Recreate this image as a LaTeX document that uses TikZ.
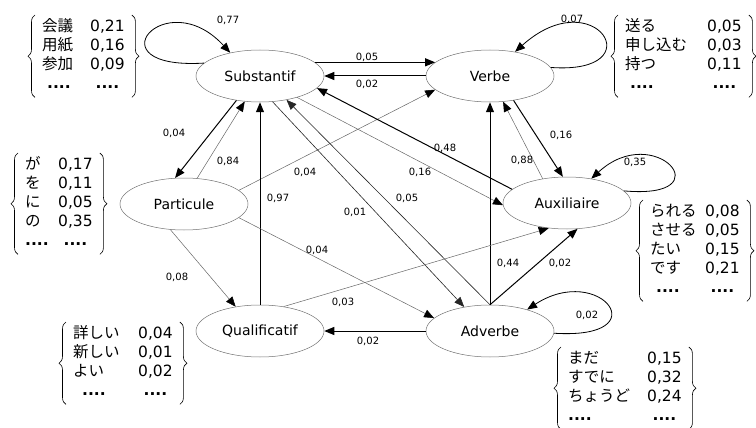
\documentclass[tikz,border=0pt]{standalone}
\usepackage{fontspec}
\usepackage{array}
\setmainfont{DejaVu Sans}
\newfontfamily\jpfont{Noto Sans CJK JP}
\usetikzlibrary{arrows.meta,shapes.geometric,decorations.pathreplacing}
\newcommand{\dts}{{\normalfont\bfseries ....}}

\begin{document}
\begin{tikzpicture}[x=1pt,y=-1pt,
    st/.style={ellipse, draw=black!55, line width=0.5pt, minimum width=128pt, minimum height=52pt, inner sep=0pt, font=\fontsize{14}{16}\selectfont},
    elbl/.style={font=\fontsize{10}{12}\selectfont, inner sep=1pt, text=black},
    bx/.style={anchor=north west, inner xsep=7pt, inner ysep=3pt, font=\fontsize{15.5}{19}\selectfont},
    brc/.style={decorate, decoration={brace, amplitude=7pt}, line width=0.6pt},
    thk/.style={-{Triangle[length=10pt,width=8pt]}, line width=1pt},
    mid/.style={-{Triangle[length=10pt,width=8pt]}, line width=0.6pt, black!85},
    thn/.style={-{Triangle[length=10pt,width=8pt,color=black]}, line width=0.5pt, black!60},
    lp/.style={-{Triangle[length=10pt,width=8pt]}, line width=0.8pt}]

    % FRAME
    \useasboundingbox (0,0) rectangle (756,428);

    % CATEGORIES
    \node[st] (subst) at (260,76) {Substantif};
    \node[st] (verbe) at (490,76) {Verbe};
    \node[st] (partic) at (184,204) {Particule};
    \node[st] (auxil) at (567,203) {Auxiliaire};
    \node[st] (qualif) at (260,331) {Qualificatif};
    \node[st] (adverb) at (490,331) {Adverbe};

    % WORD LISTS
    \node[bx] (bxsubst) at (35,15) {\begin{tabular}{@{}>{\jpfont}p{48pt}@{}c@{}}
        会議 & 0,21\\ 用紙 & 0,16\\ 参加 & 0,09\\ \hspace{5pt}\dts & \dts\end{tabular}};
    \node[bx] (bxverbe) at (618,15) {\begin{tabular}{@{}>{\jpfont}p{82pt}@{}c@{}}
        送る & 0,05\\ 申し込む & 0,03\\ 持つ & 0,11\\ \hspace{5pt}\dts & \dts\end{tabular}};
    \node[bx] (bxpartic) at (18,153) {\begin{tabular}{@{}>{\jpfont}p{33pt}@{}c@{}}
        が & 0,17\\ を & 0,11\\ に & 0,05\\ の & 0,35\\ \dts & \dts\end{tabular}};
    \node[bx] (bxauxil) at (643,200) {\begin{tabular}{@{}>{\jpfont}p{55pt}@{}c@{}}
        られる & 0,08\\ させる & 0,05\\ たい & 0,15\\ です & 0,21\\ \hspace{6pt}\dts & \dts\end{tabular}};
    \node[bx] (bxqualif) at (66,322) {\begin{tabular}{@{}>{\jpfont}p{65pt}@{}c@{}}
        詳しい & 0,04\\ 新しい & 0,01\\ よい & 0,02\\ \hspace{9pt}\dts & \dts\end{tabular}};
    \node[bx] (bxadverb) at (561,347) {\begin{tabular}{@{}>{\jpfont}p{79pt}@{}c@{}}
        まだ & 0,15\\ すでに & 0,32\\ ちょうど & 0,24\\ \dts & \dts\end{tabular}};
    \foreach \b in {bxsubst,bxverbe,bxpartic,bxauxil,bxqualif,bxadverb} {
    \draw[brc] (\b.south west) -- (\b.north west);
    \draw[brc] (\b.north east) -- (\b.south east);
    }

    % SELF LOOPS
    \draw[lp] (subst.167) .. controls (90,70) and (165,-18) .. (subst.142) node[elbl] at (228,20) {0,77};
    \draw[lp] (verbe.8) .. controls (655,75) and (595,-20) .. (verbe.44) node[elbl] at (572,19) {0,07};
    \draw[lp] (auxil.12) .. controls (725,200) and (655,120) .. (auxil.45) node[elbl] at (635,162) {0,35};
    \draw[lp] (adverb.-2) .. controls (660,340) and (600,262) .. (adverb.30) node[elbl] at (587,315) {0,02};

    % TRANSITIONS
    \draw[thk] (subst.14) -- (verbe.166) node[elbl] at (367,57) {0,05};
    \draw[thk] (verbe.west) -- (subst.east) node[elbl] at (367,84) {0,02};
    \draw[thk] (subst.226) -- (partic.109) node[elbl] at (174,133) {0,04};
    \draw[thn] (partic.63) -- (subst.239) node[elbl] at (228,161) {0,84};
    \draw[thn] (partic.14) -- (verbe.194) node[elbl] at (305,172) {0,04};
    \draw[thk] (qualif.north) -- (subst.south) node[elbl] at (278,198) {0,97};
    \draw[mid] (subst.296) -- (adverb.137) node[elbl] at (355,212) {0,01};
    \draw[mid] (adverb.north) -- (subst.318) node[elbl] at (407,198) {0,05};
    \draw[thn] (subst.330) -- (auxil.182) node[elbl] at (420,172) {0,16};
    \draw[thk] (auxil.166) -- (subst.348) node[elbl] at (445,148) {0,48};
    \draw[thk] (verbe.314) -- (auxil.99) node[elbl] at (561,135) {0,16};
    \draw[thn] (auxil.135) -- (verbe.297) node[elbl] at (522,160) {0,88};
    \draw[thk] (adverb.north) -- (verbe.south) node[elbl] at (508,263) {0,44};
    \draw[thk] (adverb.north) -- (auxil.292) node[elbl] at (560,263) {0,02};
    \draw[thn] (qualif.46) -- (auxil.234) node[elbl] at (343,302) {0,03};
    \draw[thn] (partic.346) -- (adverb.167) node[elbl] at (317,250) {0,04};
    \draw[thn] (partic.242) -- (qualif.135) node[elbl] at (177,277) {0,08};
    \draw[thk] (adverb.west) -- (qualif.east) node[elbl] at (368,341) {0,02};

\end{tikzpicture}
\end{document}
